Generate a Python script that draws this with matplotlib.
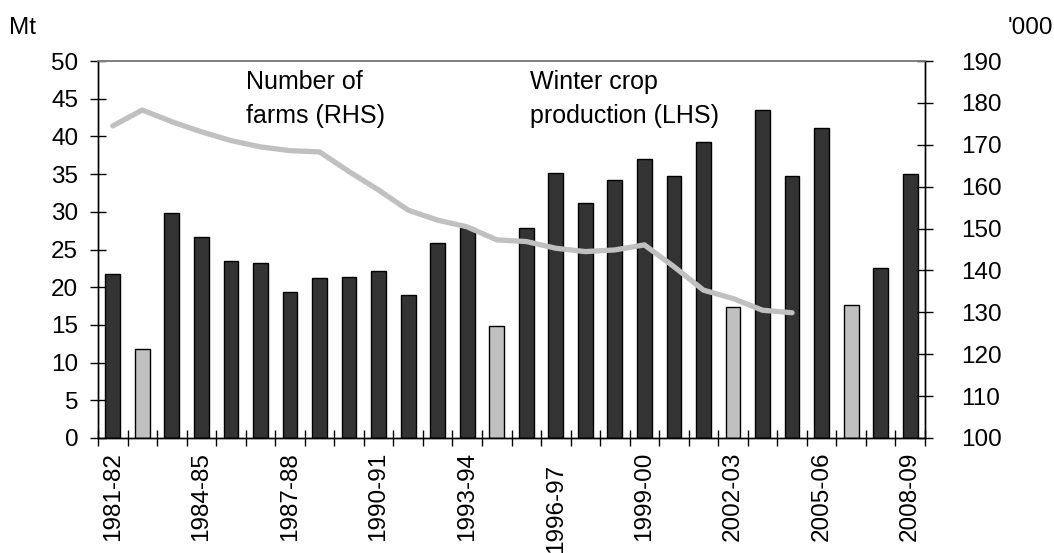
import matplotlib
matplotlib.use("Agg")
import matplotlib.pyplot as plt
import matplotlib.transforms as mtransforms
import numpy as np

plt.rcParams['font.family'] = ['Liberation Sans', 'DejaVu Sans']

years = ["1981-82", "1982-83", "1983-84", "1984-85", "1985-86", "1986-87", "1987-88",
         "1988-89", "1989-90", "1990-91", "1991-92", "1992-93", "1993-94", "1994-95",
         "1995-96", "1996-97", "1997-98", "1998-99", "1999-00", "2000-01", "2001-02",
         "2002-03", "2003-04", "2004-05", "2005-06", "2006-07", "2007-08", "2008-09"]
production_mt = [21.7, 11.8, 29.9, 26.7, 23.5, 23.2, 19.3, 21.2, 21.4, 22.2, 19.0, 25.9,
                 27.9, 14.8, 27.8, 35.2, 31.2, 34.2, 37.0, 34.7, 39.2, 17.4, 43.5, 34.7,
                 41.1, 17.7, 22.5, 35.0]
drought_years = ["1982-83", "1994-95", "2002-03", "2006-07"]
farms_thousand = [174.5, 178.3, 175.5, 173.1, 171.0, 169.5, 168.6, 168.3, 163.6, 159.2,
                  154.4, 152.0, 150.4, 147.3, 146.9, 145.3, 144.5, 144.9, 146.1, 140.9,
                  135.3, 133.3, 130.5, 129.9]
label_years = years[::3]

W, H = 1054, 553
fig = plt.figure(figsize=(W / 100, H / 100), dpi=100)
ax = fig.add_axes([98 / W, 1 - 438 / H, (925 - 98) / W, (438 - 61) / H])
ax2 = ax.twinx()

x = np.arange(len(years))
colors = ['#c0c0c0' if y in drought_years else '#333333' for y in years]
ax.bar(x, production_mt, width=0.5, color=colors, edgecolor='black', linewidth=1.0, zorder=2)

ax2.plot(np.arange(len(farms_thousand)), farms_thousand, color='#c0c0c0', linewidth=3.8,
         solid_capstyle='round', solid_joinstyle='round', zorder=3)

ax.set_xlim(-0.5, len(years) - 0.5)
ax.set_ylim(0, 50)
ax.set_yticks(np.arange(0, 51, 5))
ax2.set_ylim(100, 190)
ax2.set_yticks(np.arange(100, 191, 10))

# x ticks: marks at category boundaries, labels every third year
ax.set_xticks(np.arange(-0.5, len(years), 1.0), minor=True)
ax.set_xticks(x[::3])
ax.set_xticklabels(label_years, rotation=90, fontsize=17.5)
ax.tick_params(axis='x', which='major', length=0, pad=10)
ax.tick_params(axis='x', which='minor', direction='inout', length=11, width=1, color='black')
ax.tick_params(axis='y', direction='inout', length=11.5, width=1, pad=8.5, labelsize=17.5)
ax2.tick_params(axis='y', direction='inout', length=11.5, width=1, pad=20, labelsize=17.5)

# the 1996-97 label sits lower in the original
for lbl in ax.get_xticklabels():
    if lbl.get_text() == "1996-97":
        lbl.set_transform(lbl.get_transform() +
                          mtransforms.ScaledTranslation(0, -12 / 100, fig.dpi_scale_trans))

for a in (ax, ax2):
    a.spines['top'].set_color('#808080')
    a.spines['top'].set_linewidth(1.2)
    a.spines['left'].set_linewidth(1.0)
    a.spines['right'].set_linewidth(1.0)
    a.spines['bottom'].set_linewidth(1.0)
ax2.patch.set_visible(False)

fig.text(9 / W, 1 - 28 / H, "Mt", fontsize=17.5, va='center', ha='left')
fig.text(1053 / W, 1 - 28 / H, "'000", fontsize=17.5, va='center', ha='right')

fig.text(246 / W, 1 - 70 / H, "Number of\nfarms (RHS)", fontsize=18, va='top', ha='left',
         linespacing=1.5)
fig.text(530 / W, 1 - 70 / H, "Winter crop\nproduction (LHS)", fontsize=18, va='top',
         ha='left', linespacing=1.5)

fig.savefig("out.png", dpi=100)
